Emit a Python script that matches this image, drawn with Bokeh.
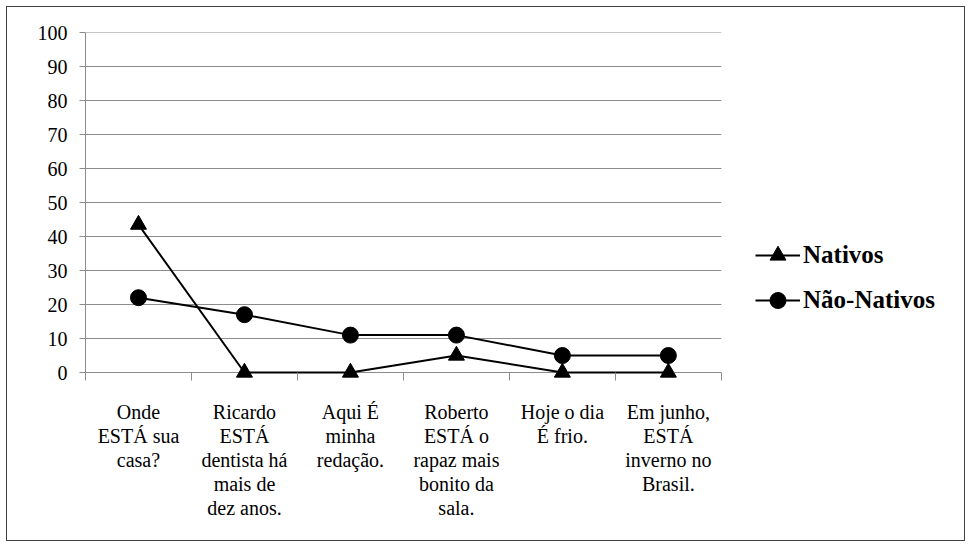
from bokeh.plotting import figure
from bokeh.models import Range1d, FixedTicker, Legend, LegendItem, LinearAxis
from bokeh.embed import file_html
from bokeh.resources import INLINE

categories = [
    "Onde\nESTÁ sua\ncasa?",
    "Ricardo\nESTÁ\ndentista há\nmais de\ndez anos.",
    "Aqui É\nminha\nredação.",
    "Roberto\nESTÁ o\nrapaz mais\nbonito da\nsala.",
    "Hoje o dia\nÉ frio.",
    "Em junho,\nESTÁ\ninverno no\nBrasil.",
]
nativos = [43.5, 0, 0, 5, 0, 0]
nao_nativos = [22, 17, 11, 11, 5, 5]
y_ticks = [0, 10, 20, 30, 40, 50, 60, 70, 80, 90, 100]

n = len(categories)
xs = [i + 0.5 for i in range(n)]
FONT = "'Liberation Serif', 'Times New Roman', serif"
GRID = "#8c8c8c"

p = figure(width=959, height=535, output_backend="svg", toolbar_location=None,
           x_range=Range1d(0, 8.2), y_range=Range1d(-2.35, 100),
           min_border_left=78, min_border_top=25, min_border_bottom=162,
           min_border_right=12, x_axis_location=None, y_axis_location=None)
p.styles = {"border": "1px solid #404040", "margin-left": "6px", "margin-top": "6px"}
p.outline_line_color = None
p.background_fill_color = "white"
p.border_fill_color = "white"

# y axis
yax = LinearAxis(ticker=FixedTicker(ticks=y_ticks, minor_ticks=[]), bounds=(0, 100))
yax.axis_line_color = GRID
yax.major_tick_line_color = GRID
yax.major_tick_out = 6
yax.major_tick_in = 0
yax.major_label_text_font = FONT
yax.major_label_text_font_size = "20px"
yax.major_label_text_color = "black"
yax.major_label_standoff = 12
p.add_layout(yax, "left")

# x axis (category labels, boundary ticks)
xax = LinearAxis(ticker=FixedTicker(ticks=xs, minor_ticks=list(range(n + 1))), bounds=(0, n))
xax.major_label_overrides = {x: c for x, c in zip(xs, categories)}
xax.axis_line_color = None
xax.major_tick_line_color = None
xax.major_tick_out = 0
xax.major_tick_in = 0
xax.minor_tick_line_color = GRID
xax.minor_tick_out = 0
xax.minor_tick_in = 8
xax.major_label_text_font = FONT
xax.major_label_text_font_size = "20px"
xax.major_label_text_color = "black"
xax.major_label_text_line_height = 1.1
xax.major_label_standoff = 20
p.add_layout(xax, "below")

p.xgrid.visible = False
p.ygrid.visible = False
# horizontal gridlines limited to the category span
p.segment(x0=[0] * len(y_ticks), x1=[n] * len(y_ticks), y0=y_ticks, y1=y_ticks,
          line_color=GRID, line_width=1)

l1 = p.line(xs, nativos, line_color="black", line_width=2)
m1 = p.scatter(xs, nativos, marker="triangle", size=16, fill_color="black", line_color="black")
l2 = p.line(xs, nao_nativos, line_color="black", line_width=2)
m2 = p.scatter(xs, nao_nativos, marker="circle", size=16, fill_color="black", line_color="black")

legend = Legend(items=[LegendItem(label="Nativos", renderers=[l1, m1]),
                       LegendItem(label="Não-Nativos", renderers=[l2, m2])],
                location=(670, 60), orientation="vertical")
legend.label_text_font = FONT
legend.label_text_font_style = "bold"
legend.label_text_font_size = "25px"
legend.label_text_color = "black"
legend.glyph_width = 45
legend.glyph_height = 40
legend.label_height = 20
legend.label_standoff = 3
legend.spacing = 5
legend.padding = 0
legend.margin = 0
legend.border_line_color = None
legend.background_fill_alpha = 0
p.add_layout(legend, "center")

open("out.html", "w").write(file_html(p, INLINE))
